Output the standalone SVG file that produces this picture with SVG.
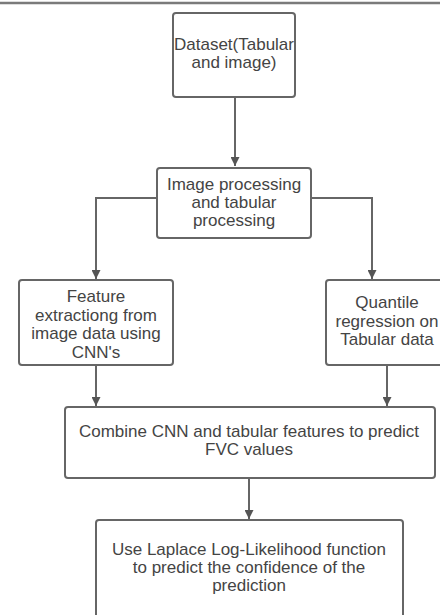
<svg xmlns="http://www.w3.org/2000/svg" width="440" height="615" viewBox="0 0 440 615">
<defs>
<marker id="arr" viewBox="0 0 10 10" refX="10" refY="5" markerWidth="9" markerHeight="9" markerUnits="userSpaceOnUse" orient="auto">
<path d="M0,0 L10,5 L0,10 Z" fill="#555"/>
</marker>
</defs>
<style>
.box{fill:#fff;stroke:#666;stroke-width:2}
.t{font-family:"Liberation Sans",Arial,sans-serif;font-size:17px;fill:#444;text-anchor:middle}
.c{fill:none;stroke:#666;stroke-width:2;marker-end:url(#arr)}
</style>
<rect width="440" height="615" fill="#fff"/>
<line x1="0" y1="3" x2="440" y2="3" stroke="#7a7a7a" stroke-width="2.5"/>
<g id="connectors">
<path class="c" d="M235,97 V166"/>
<path class="c" d="M157,198 H96 V279"/>
<path class="c" d="M311,198 H372 V279"/>
<path class="c" d="M96,365 V406"/>
<path class="c" d="M387,365 V406"/>
<path class="c" d="M249,478 V519"/>
</g>
<g id="dataset">
<rect class="box" x="173" y="13" width="122" height="84" rx="3"/>
<text class="t" x="234" y="50">Dataset(Tabular</text>
<text class="t" x="234" y="68">and image)</text>
</g>
<g id="processing">
<rect class="box" x="157" y="168" width="154" height="70" rx="3"/>
<text class="t" x="234" y="190">Image processing</text>
<text class="t" x="234" y="208">and tabular</text>
<text class="t" x="234" y="226">processing</text>
</g>
<g id="feature">
<rect class="box" x="19" y="280" width="154" height="85" rx="3"/>
<text class="t" x="96" y="302">Feature</text>
<text class="t" x="96" y="321">extractiong from</text>
<text class="t" x="96" y="339">image data using</text>
<text class="t" x="96" y="358">CNN's</text>
</g>
<g id="quantile">
<rect class="box" x="326" y="280" width="124" height="85" rx="3"/>
<text class="t" x="387" y="308">Quantile</text>
<text class="t" x="387" y="327">regression on</text>
<text class="t" x="387" y="345">Tabular data</text>
</g>
<g id="combine">
<rect class="box" x="65" y="407" width="370" height="71" rx="3"/>
<text class="t" x="249" y="437">Combine CNN and tabular features to predict</text>
<text class="t" x="249" y="455">FVC values</text>
</g>
<g id="laplace">
<rect class="box" x="96" y="520" width="307" height="110" rx="3"/>
<text class="t" x="249" y="555">Use Laplace Log-Likelihood function</text>
<text class="t" x="249" y="573">to predict the confidence of the</text>
<text class="t" x="249" y="591">prediction</text>
</g>
</svg>
